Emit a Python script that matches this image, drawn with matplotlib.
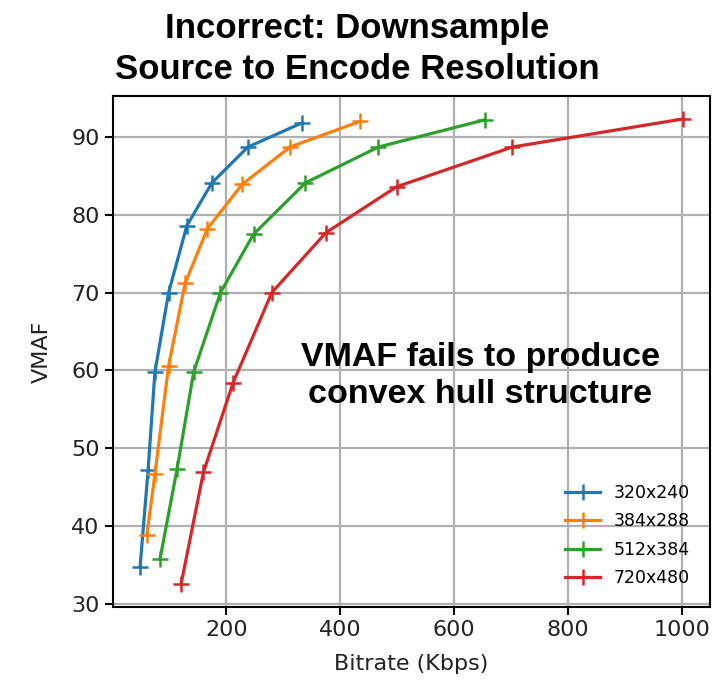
import matplotlib
matplotlib.use('Agg')
import matplotlib.pyplot as plt

# data
labels = ['320x240', '384x288', '512x384', '720x480']
colors = ['#1f77b4', '#ff7f0e', '#2ca02c', '#d62728']

br_320 = [49, 63, 75, 99, 131, 175, 238, 333]
vmaf_320 = [34.8, 47.2, 59.8, 70.0, 78.6, 84.1, 88.7, 91.8]

br_384 = [61, 75, 99, 128, 167, 228, 312, 435]
vmaf_384 = [38.9, 46.7, 60.6, 71.2, 78.2, 83.9, 88.7, 92.0]

br_512 = [84, 114, 143, 190, 248, 339, 467, 654]
vmaf_512 = [35.8, 47.4, 59.8, 70.0, 77.5, 84.1, 88.7, 92.2]

br_720 = [121, 160, 212, 280, 375, 499, 702, 1001]
vmaf_720 = [32.6, 46.9, 58.4, 70.0, 77.7, 83.6, 88.7, 92.3]

series = [(br_320, vmaf_320), (br_384, vmaf_384), (br_512, vmaf_512), (br_720, vmaf_720)]

fig = plt.figure(figsize=(7.15, 6.84), dpi=100)
ax = fig.add_axes([0.158, 0.1126, 0.835, 0.7474])

for (x, y), lab, c in zip(series, labels, colors):
    ax.plot(x, y, marker='+', markersize=11, markeredgewidth=1.8,
            linewidth=2.3, color=c, label=lab)

ax.grid(True, color='#b0b0b0', linewidth=1.6)
ax.set_axisbelow(True)
ax.set_xticks([200, 400, 600, 800, 1000])
ax.set_yticks([30, 40, 50, 60, 70, 80, 90])
ax.tick_params(labelsize=16, length=6, width=1.5, labelcolor='#222222')
for s in ax.spines.values():
    s.set_linewidth(1.5)
ax.set_xlabel('Bitrate (Kbps)', fontsize=16, color='#222222', labelpad=10)
ax.set_ylabel('VMAF', fontsize=16, color='#222222', labelpad=14)

ax.legend(loc='lower right', frameon=False, fontsize=12.5,
          handlelength=2.0, labelspacing=0.6, bbox_to_anchor=(0.993, 0.008))

fig.suptitle('Incorrect: Downsample\nSource to Encode Resolution',
             fontsize=25, fontweight='bold', family='Liberation Sans',
             y=0.982, linespacing=1.3)

ax.text(0.615, 0.452, 'VMAF fails to produce\nconvex hull structure',
        transform=ax.transAxes, ha='center', va='center',
        fontsize=24.5, fontweight='bold', family='Liberation Sans',
        linespacing=1.22)

fig.savefig('out.png', dpi=100)
